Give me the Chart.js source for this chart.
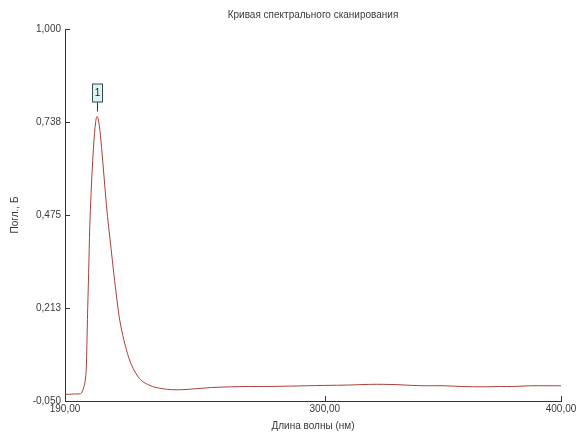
<!DOCTYPE html>
<html>
<head>
<meta charset="utf-8">
<script src="https://cdn.jsdelivr.net/npm/chart.js@4/dist/chart.umd.min.js"></script>
<style>
  html, body { margin: 0; padding: 0; background: #fff; }
  #wrap { width: 577px; height: 434px; }
</style>
</head>
<body>
<div id="wrap"><canvas id="scanChart" width="577" height="434"></canvas></div>
<script>
// Данные спектра
const wavelengths = [190, 192, 194, 196, 197, 198, 198.5, 199, 199.5, 200, 200.5, 201, 201.5, 202, 202.5, 203, 203.5,
    204, 204.5, 205, 206, 207, 208, 209, 210, 211, 212, 213, 214, 215, 216, 217, 218, 219, 220, 221, 222, 224, 226,
    228, 231, 235, 240, 246, 252, 260, 268, 276, 285, 292, 300, 310, 319, 325, 331, 337, 342, 350, 358, 367, 374,
    380, 387, 394, 400];
const absorbance = [-0.031, -0.031, -0.030, -0.030, -0.027, -0.010, 0.005, 0.040, 0.180, 0.310, 0.445, 0.530, 0.600,
    0.659, 0.705, 0.738, 0.753, 0.748, 0.728, 0.700, 0.625, 0.545, 0.471, 0.410, 0.350, 0.290, 0.235, 0.185, 0.150,
    0.120, 0.095, 0.072, 0.054, 0.040, 0.028, 0.018, 0.010, 0.000, -0.006, -0.011, -0.015, -0.018, -0.018, -0.015,
    -0.012, -0.010, -0.009, -0.009, -0.008, -0.007, -0.006, -0.005, -0.003, -0.003, -0.004, -0.006, -0.007, -0.007,
    -0.009, -0.010, -0.009, -0.009, -0.007, -0.007, -0.007];

const xTickValues = [190, 300, 400];
const xTickLabels = ['190,00', '300,00', '400,00'];
const yTickValues = [-0.05, 0.2125, 0.475, 0.7375, 1.0];
const yTickLabels = ['-0,050', '0,213', '0,475', '0,738', '1,000'];
const peakLabels = ['1'];

const FONT = 'Liberation Sans';
const AXIS_COLOR = '#333';
const TEXT_COLOR = '#3a3a3a';

// тики внутрь + метка пика
const innerTicks = {
    id: 'innerTicks',
    afterDraw(chart) {
        const { ctx, chartArea: a, scales: { x, y } } = chart;
        ctx.save();
        ctx.strokeStyle = AXIS_COLOR;
        ctx.lineWidth = 1;
        ctx.beginPath();
        yTickValues.forEach(v => {
            const py = Math.round(y.getPixelForValue(v)) + 0.5;
            ctx.moveTo(a.left, py); ctx.lineTo(a.left + 5, py);
        });
        xTickValues.forEach(v => {
            const px = Math.round(x.getPixelForValue(v)) + 0.5;
            ctx.moveTo(px, a.bottom); ctx.lineTo(px, a.bottom - 5);
        });
        ctx.stroke();

        // пик
        let pi = 0;
        absorbance.forEach((v, i) => { if (v > absorbance[pi]) pi = i; });
        const px = Math.round(x.getPixelForValue(wavelengths[pi])) + 0.5;
        const py = y.getPixelForValue(absorbance[pi]);
        const bw = 10, bh = 18;
        const by = py - 33;
        ctx.beginPath();
        ctx.moveTo(px, by + bh); ctx.lineTo(px, py - 5);
        ctx.stroke();
        ctx.fillStyle = '#dcf4f6';
        ctx.fillRect(px - bw / 2, by + 0.5, bw, bh);
        ctx.strokeStyle = '#3c4a50';
        ctx.strokeRect(px - bw / 2, by + 0.5, bw, bh);
        ctx.fillStyle = '#222';
        ctx.font = '10px ' + FONT;
        ctx.textAlign = 'center';
        ctx.textBaseline = 'middle';
        ctx.fillText(peakLabels[0], px, by + bh / 2 + 1);
        ctx.restore();
    }
};

new Chart(document.getElementById('scanChart'), {
    type: 'line',
    data: {
        datasets: [{
            data: wavelengths.map((w, i) => ({ x: w, y: absorbance[i] })),
            borderColor: '#a8403c',
            borderWidth: 1,
            pointRadius: 0,
            tension: 0.35,
            fill: false
        }]
    },
    options: {
        responsive: false,
        animation: false,
        layout: { padding: { left: 0, right: 16, top: 0, bottom: 0 } },
        plugins: {
            legend: { display: false },
            tooltip: { enabled: false },
            title: {
                display: true,
                fullSize: false,
                text: 'Кривая спектрального сканирования',
                color: TEXT_COLOR,
                font: { family: FONT, size: 10, weight: 'normal' },
                padding: { top: 9, bottom: 8 }
            }
        },
        scales: {
            x: {
                type: 'linear',
                min: 190, max: 400,
                afterBuildTicks: s => { s.ticks = xTickValues.map(v => ({ value: v })); },
                afterFit: s => { s.height = 33; s.paddingLeft = 0; s.paddingRight = 0; },
                grid: { display: false, drawTicks: false },
                border: { display: true, color: AXIS_COLOR, width: 1 },
                ticks: {
                    color: TEXT_COLOR,
                    padding: 2,
                    maxRotation: 0,
                    font: { family: FONT, size: 10 },
                    callback: (v) => xTickLabels[xTickValues.indexOf(v)]
                },
                title: {
                    display: true,
                    text: 'Длина волны (нм)',
                    color: TEXT_COLOR,
                    font: { family: FONT, size: 10 },
                    padding: { top: 2, bottom: 2 }
                }
            },
            y: {
                min: -0.05, max: 1.0,
                afterBuildTicks: s => { s.ticks = yTickValues.map(v => ({ value: v })); },
                afterFit: s => { s.width = 65; },
                grid: { display: false, drawTicks: false },
                border: { display: true, color: AXIS_COLOR, width: 1 },
                ticks: {
                    color: TEXT_COLOR,
                    padding: 4,
                    font: { family: FONT, size: 10 },
                    callback: (v) => yTickLabels[yTickValues.indexOf(v)]
                },
                title: {
                    display: true,
                    text: 'Погл., Б',
                    color: TEXT_COLOR,
                    font: { family: FONT, size: 10 },
                    padding: { top: 9, bottom: 0 }
                }
            }
        }
    },
    plugins: [innerTicks]
});
</script>
</body>
</html>
